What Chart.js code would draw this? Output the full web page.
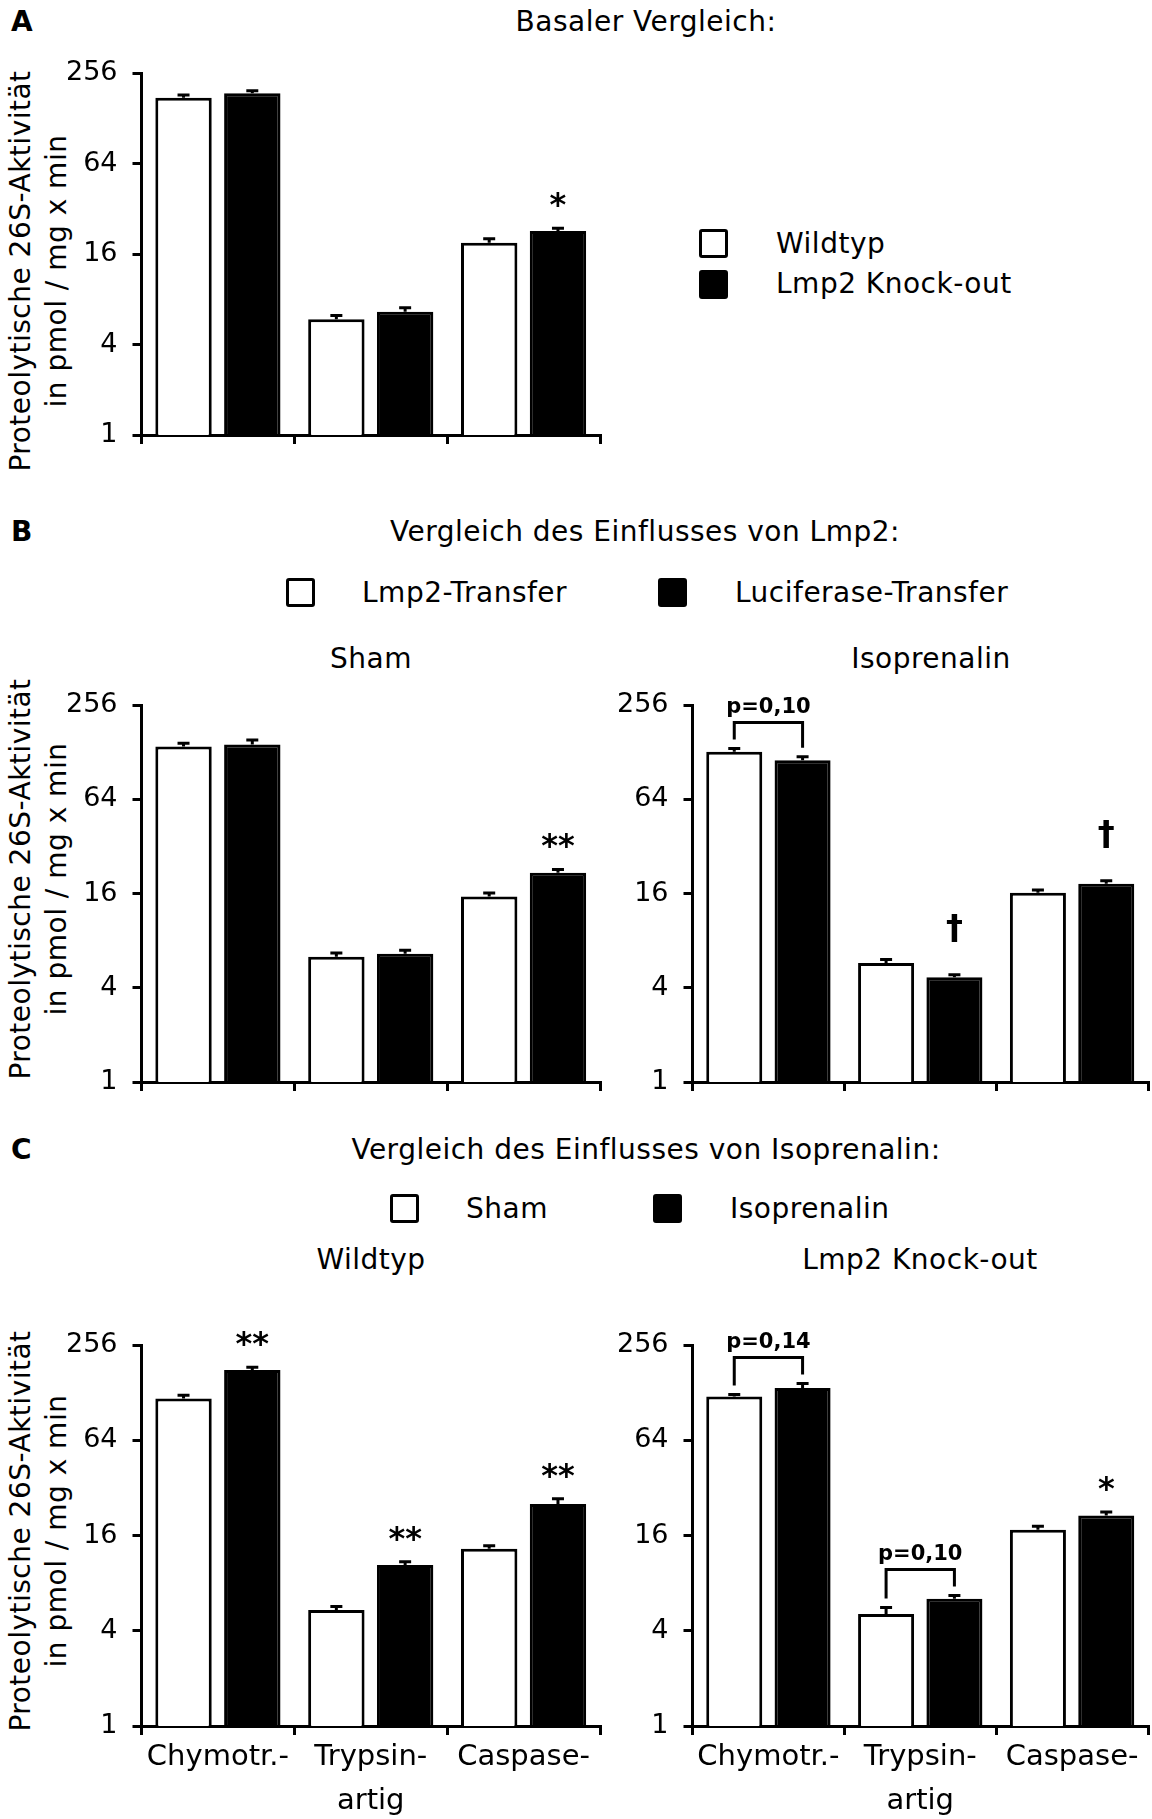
<!DOCTYPE html>
<html lang="de">
<head>
<meta charset="utf-8">
<title>Proteolytische 26S-Aktivität</title>
<script src="https://cdn.jsdelivr.net/npm/chart.js@4.4.0/dist/chart.umd.min.js"></script>
<style>
  html, body { margin: 0; background: #fff; }
  #page { position: relative; width: 1152px; height: 1819px; overflow: hidden;
          font-family: "DejaVu Sans", sans-serif; color: #000; }
  #page canvas { position: absolute; }
  .txt { position: absolute; white-space: nowrap; font-size: 28px; line-height: 1; letter-spacing: 0.5px; }
  .c { transform: translate(-50%, -50%); }
  .l { transform: translateY(-50%); }
  .letter { font-weight: bold; font-size: 28px; letter-spacing: 0; }
  .box { position: absolute; width: 29px; height: 29px; box-sizing: border-box;
         border: 3px solid #000; border-radius: 3px; background: #fff; }
  .box.fill { background: #000; }
  .ytitle { position: absolute; width: 600px; height: 72px; line-height: 36px; font-size: 28px;
            letter-spacing: 0.5px; text-align: center; white-space: nowrap; transform: rotate(-90deg); }
</style>
</head>
<body>
<div id="page">
  <!-- A -->
  <div class="txt l letter" style="left:11px;top:22px">A</div>
  <div class="txt c" style="left:646px;top:22px">Basaler Vergleich:</div>
  <div class="ytitle" style="left:-261px;top:235px">Proteolytische 26S-Aktivität<br>in pmol / mg x min</div>
  <canvas id="chartA" width="625" height="430" style="left:0;top:39px"></canvas>
  <div class="box" style="left:699px;top:229px"></div>
  <div class="txt l" style="left:776px;top:244px">Wildtyp</div>
  <div class="box fill" style="left:699px;top:270px"></div>
  <div class="txt l" style="left:776px;top:284px">Lmp2 Knock-out</div>

  <!-- B -->
  <div class="txt l letter" style="left:11px;top:532px">B</div>
  <div class="txt c" style="left:645px;top:532px">Vergleich des Einflusses von Lmp2:</div>
  <div class="box" style="left:286px;top:578px"></div>
  <div class="txt l" style="left:362px;top:593px">Lmp2-Transfer</div>
  <div class="box fill" style="left:658px;top:578px"></div>
  <div class="txt l" style="left:735px;top:593px">Luciferase-Transfer</div>
  <div class="txt c" style="left:371px;top:659px">Sham</div>
  <div class="txt c" style="left:931px;top:659px">Isoprenalin</div>
  <div class="ytitle" style="left:-261px;top:843px">Proteolytische 26S-Aktivität<br>in pmol / mg x min</div>
  <canvas id="chartBSham" width="625" height="445" style="left:0;top:671px"></canvas>
  <canvas id="chartBIso" width="562" height="445" style="left:590px;top:671px"></canvas>

  <!-- C -->
  <div class="txt l letter" style="left:11px;top:1150px">C</div>
  <div class="txt c" style="left:646px;top:1150px">Vergleich des Einflusses von Isoprenalin:</div>
  <div class="box" style="left:390px;top:1194px"></div>
  <div class="txt l" style="left:466px;top:1209px">Sham</div>
  <div class="box fill" style="left:653px;top:1194px"></div>
  <div class="txt l" style="left:730px;top:1209px">Isoprenalin</div>
  <div class="txt c" style="left:371px;top:1260px">Wildtyp</div>
  <div class="txt c" style="left:920px;top:1260px">Lmp2 Knock-out</div>
  <div class="ytitle" style="left:-261px;top:1495px">Proteolytische 26S-Aktivität<br>in pmol / mg x min</div>
  <canvas id="chartCWt" width="625" height="508" style="left:0;top:1311px"></canvas>
  <canvas id="chartCKo" width="562" height="508" style="left:590px;top:1311px"></canvas>
</div>

<script>
const categories = ['Chymotr.-', ['Trypsin-', 'artig'], 'Caspase-'];
const yTicks = [1, 4, 16, 64, 256];

// A: Wildtyp vs. Lmp2 knock-out, basal (mean, SEM)
const wildtypBasal = [175, 5.9, 19.0];
const wildtypBasalErr = [8, 0.34, 1.2];
const knockoutBasal = [188, 6.6, 22.8];
const knockoutBasalErr = [7, 0.42, 0.95];

// B: Lmp2- vs. luciferase transfer
const lmp2Sham = [139, 6.3, 15.3];
const lmp2ShamErr = [7, 0.36, 0.8];
const lucSham = [143, 6.6, 21.7];
const lucShamErr = [10, 0.35, 1.1];
const lmp2Iso = [128.6, 5.76, 16.2];
const lmp2IsoErr = [6.4, 0.29, 0.64];
const lucIso = [113.6, 4.66, 18.5];
const lucIsoErr = [6, 0.18, 0.82];

// C: sham vs. isoprenalin
const wtSham = [117.6, 5.42, 13.2];
const wtShamErr = [5.4, 0.28, 0.6];
const wtIso = [178, 10.4, 25.3];
const wtIsoErr = [7, 0.53, 2.0];
const koSham = [120.8, 5.11, 17.4];
const koShamErr = [3.9, 0.51, 0.9];
const koIso = [137, 6.38, 21.4];
const koIsoErr = [9, 0.29, 1.1];

Chart.defaults.font.family = '"DejaVu Sans", sans-serif';
Chart.defaults.color = '#000';

// stem + cap above every bar
const errorBars = {
  id: 'errorBars',
  afterDatasetsDraw(chart) {
    const ctx = chart.ctx, y = chart.scales.y;
    ctx.save();
    ctx.strokeStyle = '#000';
    ctx.lineWidth = 3;
    chart.data.datasets.forEach((ds, d) => {
      chart.getDatasetMeta(d).data.forEach((bar, i) => {
        const top = y.getPixelForValue(ds.data[i] + ds.errors[i]);
        ctx.beginPath();
        ctx.moveTo(bar.x, bar.y);
        ctx.lineTo(bar.x, top);
        ctx.moveTo(bar.x - 6, top);
        ctx.lineTo(bar.x + 6, top);
        ctx.stroke();
      });
    });
    ctx.restore();
  }
};

// significance symbols and p-value brackets
const marks = {
  id: 'marks',
  afterDatasetsDraw(chart, args, opts) {
    const ctx = chart.ctx, y = chart.scales.y;
    const top = (d, i) => {
      const ds = chart.data.datasets[d];
      return y.getPixelForValue(ds.data[i] + ds.errors[i]);
    };
    const barX = (d, i) => chart.getDatasetMeta(d).data[i].x;
    ctx.save();
    ctx.fillStyle = '#000';
    ctx.strokeStyle = '#000';
    ctx.lineWidth = 3;
    ctx.textAlign = 'center';
    ctx.textBaseline = 'alphabetic';
    (opts.stars || []).forEach(m => {
      const dagger = m.text === '†';
      ctx.font = 'bold ' + (dagger ? 34 : 32) + 'px "DejaVu Sans"';
      ctx.fillText(m.text, barX(m.set, m.index), top(m.set, m.index) - (dagger ? 36 : 13));
    });
    (opts.brackets || []).forEach(b => {
      const x0 = barX(0, b.index), x1 = barX(1, b.index);
      const t0 = top(0, b.index), t1 = top(1, b.index);
      const yLine = Math.min(t0, t1) - 26;
      ctx.beginPath();
      ctx.moveTo(x0, t0 - 9);
      ctx.lineTo(x0, yLine);
      ctx.lineTo(x1, yLine);
      ctx.lineTo(x1, t1 - 9);
      ctx.stroke();
      ctx.font = 'bold 21px "DejaVu Sans"';
      ctx.fillText(b.text, (x0 + x1) / 2, yLine - 10);
    });
    ctx.restore();
  }
};

function barChart(id, yAxisWidth, padRight, xHeight, showLabels, series, annot) {
  const axisLine = { color: '#000', width: 3 };
  const tickMarks = { drawOnChartArea: false, color: '#000', lineWidth: 3, tickLength: 9 };
  return new Chart(document.getElementById(id), {
    type: 'bar',
    data: {
      labels: categories,
      datasets: series.map((s, k) => ({
        data: s[0],
        errors: s[1],
        backgroundColor: k ? '#000' : '#fff',
        borderColor: '#000',
        borderWidth: 3,
        categoryPercentage: 0.9,
        barPercentage: 0.82
      }))
    },
    options: {
      responsive: false,
      animation: false,
      devicePixelRatio: 1,
      events: [],
      layout: { padding: { top: 34, right: padRight, left: 0, bottom: 0 } },
      plugins: { legend: { display: false }, tooltip: { enabled: false }, marks: annot },
      scales: {
        x: {
          z: 1,
          border: axisLine,
          grid: tickMarks,
          ticks: { display: showLabels, font: { size: 29, lineHeight: 1.52 }, padding: 0,
                   maxRotation: 0, autoSkip: false },
          afterFit: s => { s.height = xHeight; }
        },
        y: {
          type: 'logarithmic',
          min: 1,
          max: 256,
          z: 1,
          border: axisLine,
          grid: tickMarks,
          ticks: { font: { size: 27 }, padding: 15, callback: v => String(v) },
          afterBuildTicks: s => { s.ticks = yTicks.map(v => ({ value: v })); },
          afterFit: s => { s.width = yAxisWidth; }
        }
      }
    },
    plugins: [errorBars, marks]
  });
}

barChart('chartA', 141.5, 25, 34, false,
  [[wildtypBasal, wildtypBasalErr], [knockoutBasal, knockoutBasalErr]],
  { stars: [{ set: 1, index: 2, text: '*' }] });

barChart('chartBSham', 141.5, 25, 34, false,
  [[lmp2Sham, lmp2ShamErr], [lucSham, lucShamErr]],
  { stars: [{ set: 1, index: 2, text: '**' }] });

barChart('chartBIso', 102.5, 4, 34, false,
  [[lmp2Iso, lmp2IsoErr], [lucIso, lucIsoErr]],
  { stars: [{ set: 1, index: 1, text: '†' }, { set: 1, index: 2, text: '†' }],
    brackets: [{ index: 0, text: 'p=0,10' }] });

barChart('chartCWt', 141.5, 25, 93, true,
  [[wtSham, wtShamErr], [wtIso, wtIsoErr]],
  { stars: [{ set: 1, index: 0, text: '**' }, { set: 1, index: 1, text: '**' }, { set: 1, index: 2, text: '**' }] });

barChart('chartCKo', 102.5, 4, 93, true,
  [[koSham, koShamErr], [koIso, koIsoErr]],
  { stars: [{ set: 1, index: 2, text: '*' }],
    brackets: [{ index: 0, text: 'p=0,14' }, { index: 1, text: 'p=0,10' }] });
</script>
</body>
</html>
